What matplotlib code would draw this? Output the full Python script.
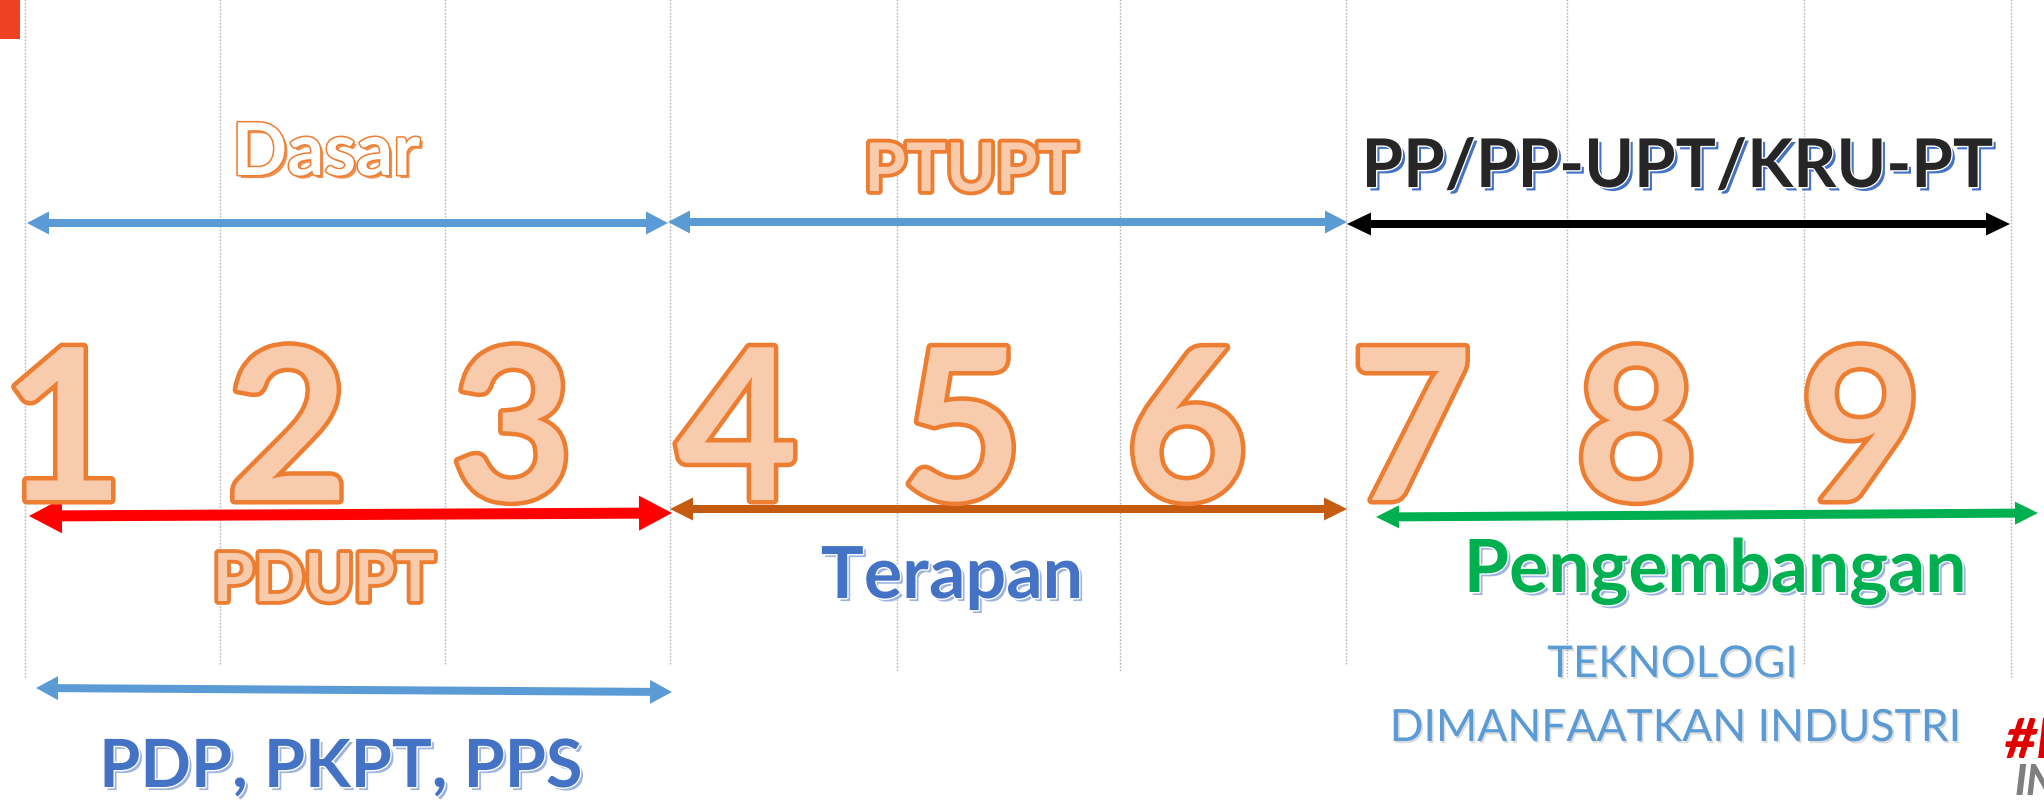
import matplotlib
matplotlib.use("Agg")
import numpy as np
import matplotlib.pyplot as plt
import matplotlib.patheffects as pe
from matplotlib.patches import FancyArrowPatch, ArrowStyle, Rectangle

# ---------------- content ----------------
levels = [1, 2, 3, 4, 5, 6, 7, 8, 9]
level_labels = [str(v) for v in levels]
top_groups = ["Dasar", "PTUPT", "PP/PP-UPT/KRU-PT"]
mid_groups = ["PDUPT", "Terapan", "Pengembangan"]
note_lines = ["TEKNOLOGI", "DIMANFAATKAN INDUSTRI"]
bottom_label = "PDP, PKPT, PPS"
logo_parts = ["#I", "IN"]

# ---------------- layout (pixel units) ----------------
W, H = 2044, 803
FONT = "Lato"
LEVEL_X0, LEVEL_STEP = 63, 224.75
DIGIT_BASELINE = 501
grid_x = [25, 220, 445, 670, 897, 1120, 1346, 1567, 1804, 2011]
grid_end = [680, 665, 665, 665, 672, 672, 665, 678, 665, 678]

# x0, y0, x1, y1, color, shaft px, head width px, head length px
top_arrows = [(27, 224, 668, 224, "#5B9BD5", 8, 23, 22),
              (668, 223, 1347, 223, "#5B9BD5", 8, 23, 22),
              (1347, 225, 2010, 225, "#000000", 8, 23, 24)]
mid_arrows = [(29, 517, 672, 514, "#FF0000", 11, 35, 33),
              (670, 510, 1347, 510, "#C55A11", 8, 23, 23),
              (1376, 518, 2038, 514, "#00B050", 9, 23, 23)]
bottom_arrow = (36, 689, 672, 693, "#5B9BD5", 8, 24, 22)

# center x, baseline y, target ink width
top_pos = [(326, 176, 188), (971, 192, 213), (1677, 188, 631)]
mid_pos = [(324, 602, 222), (952, 599, 262), (1715, 593, 503)]
note_pos = [(1672, 678, 250), (1674, 742, 569)]
bottom_pos = (341, 788, 483)

PX = 0.72  # points per pixel at dpi 100

fig = plt.figure(figsize=(W / 100, H / 100), dpi=100)
ax = fig.add_axes([0, 0, 1, 1])
ax.set_xlim(0, W)
ax.set_ylim(H, 0)
ax.axis("off")

# grid of dotted separators
for x, ye in zip(grid_x, grid_end):
    ax.plot([x, x], [0, ye], color="#B4B4B4", lw=1.0, ls=(0, (1.2, 1.2)), zorder=1)

# red corner mark
ax.add_patch(Rectangle((0, 0), 20, 40, color="#EE4123", lw=0, zorder=2))


def double_arrow(spec):
    x0, y0, x1, y1, c, shaft, hw, hl = spec
    p0 = np.array([x0, y0], float)
    p1 = np.array([x1, y1], float)
    d = (p1 - p0) / np.linalg.norm(p1 - p0)
    a = p0 + d * hl * 0.6
    b = p1 - d * hl * 0.6
    ax.plot([a[0], b[0]], [a[1], b[1]], color=c, lw=shaft * PX,
            solid_capstyle="butt", zorder=3)
    style = ArrowStyle("<|-|>", head_length=hl * PX, head_width=hw / 2 * PX)
    ax.add_patch(FancyArrowPatch(tuple(p0), tuple(p1), arrowstyle=style,
                                 fc=c, ec="none", lw=0, shrinkA=0, shrinkB=0,
                                 zorder=3))


for spec in top_arrows + mid_arrows + [bottom_arrow]:
    double_arrow(spec)

texts = []  # (text, target width)

# level digits
for lv, lab in zip(levels, level_labels):
    x = LEVEL_X0 + LEVEL_STEP * (lv - 1)
    ax.text(x, DIGIT_BASELINE, lab, ha="center", va="baseline",
            fontsize=152, fontfamily=FONT, fontweight="bold",
            color="#F8CBAD", zorder=4,
            path_effects=[pe.Stroke(linewidth=6.5, foreground="#ED7D31"),
                          pe.Normal()])

orange = "#ED7D31"
peach = "#F8CBAD"
blue = "#4472C4"
lblue = "#9DB3E0"

top_effects = [
    [pe.SimplePatchShadow(offset=(2.2, -2.2), shadow_rgbFace=orange, alpha=0.85),
     pe.Stroke(linewidth=2.2, foreground=orange), pe.Normal()],
    [pe.Stroke(linewidth=5.5, foreground=orange), pe.Normal()],
    [pe.SimplePatchShadow(offset=(2.5, -2.5), shadow_rgbFace=blue, alpha=1.0),
     pe.Stroke(linewidth=2.0, foreground="white"), pe.Normal()],
]
top_colors = ["white", peach, "#262626"]
for lab, (x, y, tw), col, eff in zip(top_groups, top_pos, top_colors, top_effects):
    t = ax.text(x, y, lab, ha="center", va="baseline", fontsize=40,
                fontfamily=FONT, fontweight="bold", color=col,
                path_effects=eff, zorder=5)
    texts.append((t, tw))

mid_effects = [
    [pe.Stroke(linewidth=5.5, foreground=orange), pe.Normal()],
    [pe.SimplePatchShadow(offset=(2.2, -2.2), shadow_rgbFace=lblue, alpha=1.0),
     pe.Stroke(linewidth=2.0, foreground="white"), pe.Normal()],
    [pe.SimplePatchShadow(offset=(2.2, -2.2), shadow_rgbFace=lblue, alpha=1.0),
     pe.Stroke(linewidth=2.0, foreground="white"), pe.Normal()],
]
mid_colors = [peach, blue, "#00B050"]
for lab, (x, y, tw), col, eff in zip(mid_groups, mid_pos, mid_colors, mid_effects):
    t = ax.text(x, y, lab, ha="center", va="baseline", fontsize=40,
                fontfamily=FONT, fontweight="bold", color=col,
                path_effects=eff, zorder=5)
    texts.append((t, tw))

for lab, (x, y, tw) in zip(note_lines, note_pos):
    t = ax.text(x, y, lab, ha="center", va="baseline", fontsize=30,
                fontfamily=FONT, color="#5B9BD5", zorder=5,
                path_effects=[pe.SimplePatchShadow(offset=(1.2, -1.5),
                                                   shadow_rgbFace="#999999",
                                                   alpha=0.35),
                              pe.Normal()])
    texts.append((t, tw))

x, y, tw = bottom_pos
t = ax.text(x, y, bottom_label, ha="center", va="baseline", fontsize=40,
            fontfamily=FONT, fontweight="bold", color=blue, zorder=5,
            path_effects=[pe.SimplePatchShadow(offset=(2.2, -2.2),
                                               shadow_rgbFace=lblue, alpha=1.0),
                          pe.Stroke(linewidth=2.0, foreground="white"),
                          pe.Normal()])
texts.append((t, tw))

# logo fragment at the bottom right edge
ax.text(2005, 758, logo_parts[0], ha="left", va="baseline", fontsize=40,
        fontfamily=FONT, fontweight="black", fontstyle="italic",
        color="#E00000", zorder=5)
ax.text(2015, 795, logo_parts[1], ha="left", va="baseline", fontsize=30,
        fontfamily=FONT, fontweight="black", fontstyle="italic",
        color="#7F7F7F", zorder=5)

# fit label sizes to the measured widths
fig.canvas.draw()
renderer = fig.canvas.get_renderer()
for t, tw in texts:
    w = t.get_window_extent(renderer).width
    t.set_fontsize(t.get_fontsize() * tw / w)

fig.savefig("out.png", dpi=100, facecolor="white")
